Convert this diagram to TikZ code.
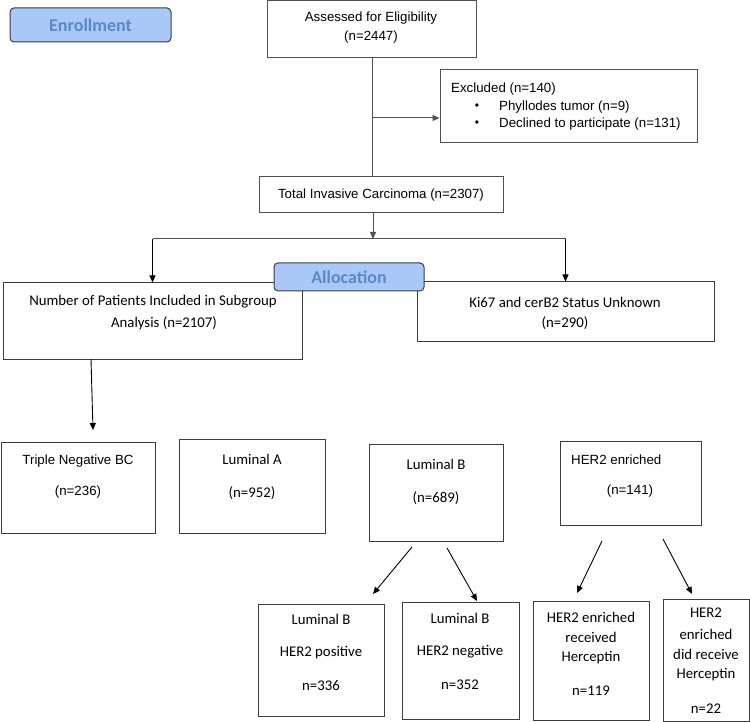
\documentclass[tikz,border=0pt]{standalone}
\usepackage{fontspec}
\setmainfont{Liberation Sans}
\newfontfamily\calfont{Carlito}
\usetikzlibrary{arrows.meta}
\definecolor{boxline}{HTML}{3C3C3C}
\definecolor{grayline}{HTML}{505050}
\definecolor{tabfill}{HTML}{A9C7F7}
\definecolor{tabtext}{HTML}{5B89C6}
\tikzset{
  bx/.style={draw=boxline, line width=1pt, rectangle, inner sep=0pt, fill=white},
  gbx/.style={draw=grayline, line width=1pt, rectangle, inner sep=0pt, fill=white},
  tab/.style={draw=boxline, line width=1pt, rectangle, rounded corners=4pt, fill=tabfill, inner sep=0pt,
    font=\calfont\bfseries\fontsize{18}{20}\selectfont, text=tabtext},
  ar/.style={font=\fontsize{13.3}{15}\selectfont, inner sep=0pt, anchor=center},
  cb/.style={font=\calfont\fontsize{14.8}{17}\selectfont, inner sep=0pt, anchor=center},
  con/.style={draw=black, line width=0.9pt},
  arr/.style={con, -{Triangle[length=7pt,width=6pt]}},
  gline/.style={draw=grayline, line width=1pt},
  garr/.style={gline, -{Triangle[length=7pt,width=6pt]}},
}
\begin{document}
\begin{tikzpicture}[x=1pt,y=-1pt]
\useasboundingbox (0,0) rectangle (750,722);
% boxes
\node[gbx, minimum width=209pt, minimum height=57pt] (assess) at (371.5,29.5) {};
\node[gbx, minimum width=257pt, minimum height=73pt] (excl) at (568.5,106.5) {};
\node[gbx, minimum width=244pt, minimum height=36pt] (total) at (381,195) {};
\node[bx, minimum width=299pt, minimum height=76pt] (number) at (152.5,321) {};
\node[bx, minimum width=297pt, minimum height=59pt] (ki67) at (565.5,311.5) {};
\node[bx, minimum width=154pt, minimum height=91pt] (triple) at (78,487.5) {};
\node[bx, minimum width=146pt, minimum height=94pt] (luma) at (252,486) {};
\node[bx, minimum width=134pt, minimum height=97pt] (lumb) at (436,492.5) {};
\node[bx, minimum width=141pt, minimum height=84pt] (her2) at (630.5,483) {};
\node[bx, minimum width=126pt, minimum height=112pt] (lbpos) at (321,660) {};
\node[bx, minimum width=117pt, minimum height=117pt] (lbneg) at (460.5,660.5) {};
\node[bx, minimum width=116pt, minimum height=119pt] (hrec) at (591,660.5) {};
\node[bx, minimum width=86pt, minimum height=122pt] (hdid) at (706,660) {};
\node[tab, minimum width=161pt, minimum height=34pt] (enroll) at (90.5,25) {Enrollment};

% connectors (top part)
\coordinate (bx) at (372,118);
\coordinate (split) at (373,239);
\coordinate (nstart) at (91,359);
\coordinate (tend) at (93,430);
\draw[gline] (assess.south -| bx) -- (total.north -| bx);
\draw[garr] (bx) -- (excl.west |- bx);
\draw[garr] (total.south -| split) -- (split);
\draw[gline] (number.north |- split) -- (ki67.north |- split);
\draw[arr] (number.north |- split) -- (number.north);
\draw[arr] (ki67.north |- split) -- (ki67.north);
\draw[arr] (nstart) -- (tend);

% diagonal arrows
\coordinate (a1s) at (412,547); \coordinate (a1e) at (373,594);
\coordinate (a2s) at (447,548); \coordinate (a2e) at (477,601);
\coordinate (a3s) at (602,541); \coordinate (a3e) at (577,593);
\coordinate (a4s) at (663,539); \coordinate (a4e) at (692,594);
\draw[arr] (a1s) -- (a1e);
\draw[arr] (a2s) -- (a2e);
\draw[arr] (a3s) -- (a3e);
\draw[arr] (a4s) -- (a4e);

% allocation tab over the boxes
\node[tab, minimum width=150pt, minimum height=28pt] (alloc) at (349,277) {Allocation};

% texts
\node[ar] (t-as1) at (371,18) {Assessed for Eligibility};
\node[ar] (t-as2) at (371,37) {(n=2447)};
\node[ar, anchor=west] (t-ex1) at (451,89) {Excluded (n=140)};
\node[ar] (t-b1) at (477,107) {\fontsize{12}{12}\selectfont•};
\node[ar] (t-b2) at (477,124) {\fontsize{12}{12}\selectfont•};
\node[ar, anchor=west] (t-ex2) at (499,107) {Phyllodes tumor (n=9)};
\node[ar, anchor=west] (t-ex3) at (499,124) {Declined to participate (n=131)};
\node[ar] (t-tot) at (381,195) {Total Invasive Carcinoma (n=2307)};

\node[cb] (t-nu1) at (153,302) {Number of Patients Included in Subgroup};
\node[cb] (t-nu2) at (164,323) {Analysis (n=2107)};
\node[cb] (t-ki1) at (565,302) {Ki67 and cerB2 Status Unknown};
\node[cb] (t-ki2) at (565,323) {(n=290)};

\node[ar] (t-tr1) at (78,461) {Triple Negative BC};
\node[ar] (t-tr2) at (78,492) {(n=236)};
\node[cb] (t-la1) at (252,459) {Luminal A};
\node[cb] (t-la2) at (252,493) {(n=952)};
\node[cb] (t-lb1) at (436,464) {Luminal B};
\node[cb] (t-lb2) at (436,498) {(n=689)};
\node[ar, anchor=west] (t-he1) at (571,460) {HER2 enriched};
\node[ar] (t-he2) at (630,491) {(n=141)};

\node[cb] (t-p1) at (321,619) {Luminal B};
\node[cb] (t-p2) at (321,653) {HER2 positive};
\node[cb] (t-p3) at (321,686) {n=336};
\node[cb] (t-n1) at (460,618) {Luminal B};
\node[cb] (t-n2) at (460,652) {HER2 negative};
\node[cb] (t-n3) at (460,685) {n=352};
\node[cb] (t-r1) at (591,617) {HER2 enriched};
\node[cb] (t-r2) at (591,637) {received};
\node[cb] (t-r3) at (591,658) {Herceptin};
\node[cb] (t-r4) at (591,691) {n=119};
\node[cb] (t-d1) at (706,613) {HER2};
\node[cb] (t-d2) at (706,634) {enriched};
\node[cb] (t-d3) at (706,654) {did receive};
\node[cb] (t-d4) at (706,675) {Herceptin};
\node[cb] (t-d5) at (706,709) {n=22};
\end{tikzpicture}
\end{document}
